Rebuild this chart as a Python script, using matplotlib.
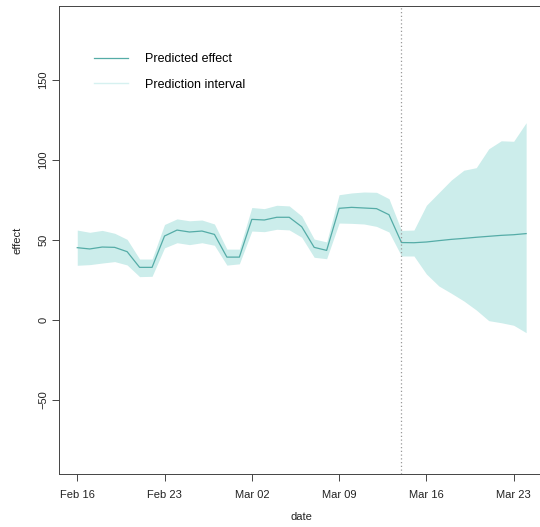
import pandas as pd
import matplotlib.pyplot as plt
import matplotlib.dates as mdates

plt.rcParams['font.family'] = ['Liberation Sans', 'DejaVu Sans']

# daily dates, Feb 16 .. Mar 24 (forecast starts Mar 14)
dates = pd.date_range('2021-02-16', '2021-03-24', freq='D')
cutoff = pd.Timestamp('2021-03-14')

effect = [45.2, 44.4, 45.6, 45.4, 42.7, 32.9, 32.9,
          52.5, 56.2, 55.0, 55.6, 53.5, 39.3, 39.3,
          62.9, 62.5, 64.2, 64.2, 58.3, 45.4, 43.5,
          69.8, 70.4, 70.0, 69.6, 65.8,
          48.4, 48.3, 48.75, 49.6, 50.4, 51.0, 51.7, 52.3, 52.9, 53.3, 54.0]
upper = [56.2, 54.8, 56.0, 54.2, 50.4, 38.1, 38.1,
         59.7, 63.2, 62.0, 62.5, 60.0, 44.3, 44.3,
         70.3, 69.6, 71.7, 71.3, 65.0, 50.6, 48.8,
         78.3, 79.4, 80.0, 79.8, 75.8,
         56.0, 56.2, 71.7, 79.6, 87.5, 93.6, 95.2, 107.0, 112.0, 111.7, 123.3]
lower = [34.2, 34.6, 35.6, 36.5, 34.4, 27.1, 27.3,
         45.1, 48.3, 47.1, 48.3, 46.7, 34.3, 35.1,
         55.6, 55.2, 56.7, 56.3, 51.7, 39.2, 38.3,
         60.6, 60.4, 60.0, 58.5, 55.0,
         40.0, 40.0, 28.75, 21.25, 16.7, 11.9, 6.25, -0.4, -1.7, -3.3, -7.9]

line_col = '#55aca7'
band_col = '#ccedeb'

fig = plt.figure(figsize=(5.4, 5.27), dpi=100)
ax = fig.add_axes([59.3 / 540, 52.7 / 527, 484.8 / 540, 468.3 / 527])

ax.fill_between(dates, lower, upper, color=band_col, linewidth=0, zorder=1)
ax.plot(dates, effect, color=line_col, linewidth=0.9, zorder=2)
ax.axvline(cutoff, color='#999999', linestyle=(0, (1, 2)), linewidth=0.9, zorder=3)

ax.set_xlim(dates[0] - pd.Timedelta(days=1.44), dates[-1] + pd.Timedelta(days=1.44))
ax.set_ylim(-96.44, 196.25)

ax.set_xticks(pd.date_range('2021-02-16', '2021-03-23', freq='7D'))
ax.xaxis.set_major_formatter(mdates.DateFormatter('%b %d'))
ax.set_yticks([-50, 0, 50, 100, 150])
for lab in ax.get_yticklabels():
    lab.set_rotation(90)
    lab.set_va('center')

ax.tick_params(axis='both', direction='out', length=5, width=0.7,
               color='#444444', labelsize=8, labelcolor='#222222')
ax.tick_params(axis='x', pad=6)
ax.tick_params(axis='y', pad=3)

for side in ['left', 'bottom', 'top', 'right']:
    ax.spines[side].set_color('#444444')
    ax.spines[side].set_linewidth(0.7)

ax.set_xlabel('date', fontsize=8, color='#222222')
ax.set_ylabel('effect', fontsize=8, color='#222222')
ax.xaxis.set_label_coords(0.5, -0.081)
ax.yaxis.set_label_coords(-0.075, 0.5)

h1, = ax.plot([], [], color=line_col, linewidth=0.9)
h2, = ax.plot([], [], color='#d6f1f0', linewidth=1.0)
ax.legend([h1, h2], ['Predicted effect', 'Prediction interval'],
          loc='upper left', frameon=False, fontsize=9,
          bbox_to_anchor=((94 - 59.3) / 484.8, (474.3 - 53) / 468.3),
          borderaxespad=0, borderpad=0, handlelength=2.74,
          handletextpad=1.34, labelspacing=1.08)

fig.savefig('out.png', dpi=100)
